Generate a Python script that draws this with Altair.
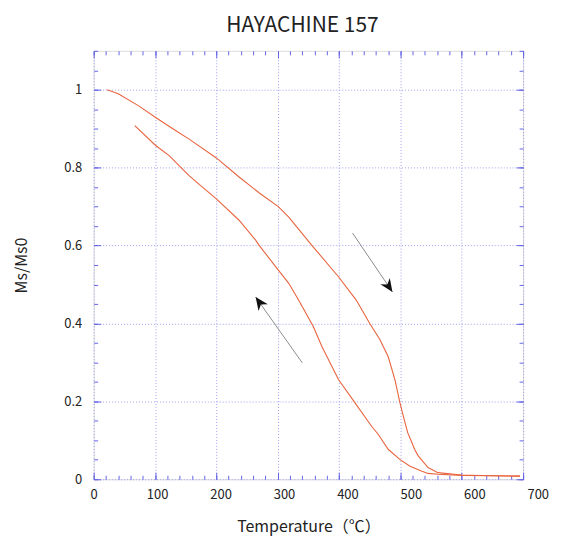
import math
import altair as alt
import pandas as pd

# ---- data ----
heat_T = [22, 40, 74, 101, 134, 155, 200, 237, 270, 301, 318, 356, 399, 428, 450, 466, 480, 491, 499, 505, 512, 518, 523, 529, 545, 561, 599, 650, 695]
heat_M = [1.0, 0.99, 0.958, 0.929, 0.895, 0.874, 0.825, 0.776, 0.735, 0.70, 0.673, 0.60, 0.52, 0.46, 0.40, 0.36, 0.315, 0.256, 0.198, 0.16, 0.119, 0.097, 0.077, 0.06, 0.03, 0.017, 0.011, 0.009, 0.008]

cool_T = [695, 650, 600, 561, 545, 534, 515, 499, 480, 464, 453, 426, 399, 372, 358, 334, 318, 301, 270, 264, 237, 200, 172, 155, 123, 101, 67]
cool_M = [0.008, 0.009, 0.010, 0.013, 0.015, 0.021, 0.034, 0.051, 0.077, 0.115, 0.136, 0.196, 0.256, 0.341, 0.392, 0.46, 0.503, 0.537, 0.60, 0.614, 0.665, 0.72, 0.757, 0.78, 0.831, 0.857, 0.908]

arrow_id = ["heat", "cool"]
arrow_x1 = [422, 340]
arrow_y1 = [0.632, 0.299]
arrow_x2 = [487, 264]
arrow_y2 = [0.481, 0.468]

x_major = list(range(0, 701, 100))
x_minor = list(range(0, 701, 20))
y_major = [0, 0.2, 0.4, 0.6, 0.8, 1.0]
y_minor = [round(i * 0.05, 2) for i in range(0, 23)]

TITLE = "HAYACHINE 157"
XTITLE = "Temperature（℃）"
YTITLE = "Ms/Ms0"

# ---- layout / style ----
W, H = 431, 430
XMAX, YMAX = 700, 1.1
FONT = "Noto Sans CJK JP"
BLUE = "#6464e6"
GRID = "#a0a0f0"
CURVE = "#e8653f"

heat = pd.DataFrame({"T": heat_T, "M": heat_M})
cool = pd.DataFrame({"T": cool_T, "M": cool_M})

angles = []
for x1, y1, x2, y2 in zip(arrow_x1, arrow_y1, arrow_x2, arrow_y2):
    dx = (x2 - x1) * W / XMAX
    dy = -(y2 - y1) * H / YMAX
    angles.append(math.degrees(math.atan2(dx, -dy)) % 360)
arrows = pd.DataFrame({"id": arrow_id, "x1": arrow_x1, "y1": arrow_y1,
                       "x2": arrow_x2, "y2": arrow_y2, "angle": angles})

xs = alt.Scale(domain=[0, XMAX], nice=False, zero=False)
ys = alt.Scale(domain=[0, YMAX], nice=False, zero=False)


def tick_axis(orient, offset, size, values):
    return alt.Axis(orient=orient, offset=offset, values=values, tickSize=size,
                    tickColor=BLUE, tickWidth=1, labels=False, domain=False,
                    grid=False, title=None)


main_x = alt.Axis(orient="bottom", values=x_major, grid=True, gridColor=GRID,
                  gridDash=[1, 2], gridWidth=1, ticks=False, domain=False,
                  labelFont=FONT, labelFontSize=13, labelColor="#222",
                  labelPadding=9, labelFlush=False,
                  labelOffset=alt.ExprRef(expr="datum.value * 0.021"),
                  title=XTITLE, titleFont=FONT, titleFontSize=16,
                  titleFontWeight="normal", titleColor="#222",
                  titleY=52, titleBaseline="alphabetic")
main_y = alt.Axis(orient="left", values=y_major, format=".1~f", grid=True,
                  gridColor=GRID, gridDash=[1, 2], gridWidth=1, ticks=False,
                  domain=False, labelFont=FONT, labelFontSize=13,
                  labelColor="#222", labelPadding=12, labelFlush=False,
                  title=YTITLE, titleFont=FONT, titleFontSize=16,
                  titleFontWeight="normal", titleColor="#222", titleX=-67,
                  titleBaseline="alphabetic")

heat_layer = alt.Chart(heat).mark_line(color=CURVE, strokeWidth=1.1).encode(
    x=alt.X("T:Q", scale=xs, axis=main_x),
    y=alt.Y("M:Q", scale=ys, axis=main_y),
    order="T:Q",
)

cool_layer = alt.Chart(cool).mark_line(color=CURVE, strokeWidth=1.1).encode(
    x=alt.X("T:Q", scale=xs, axis=tick_axis("bottom", -H, 7, x_major)),
    y=alt.Y("M:Q", scale=ys, axis=tick_axis("right", -W, 7, y_major)),
    order="T:Q",
)

shaft_layer = alt.Chart(arrows).mark_rule(color="#8c8c8c", strokeWidth=1).encode(
    x=alt.X("x1:Q", scale=xs, axis=tick_axis("bottom", -H, 4, x_minor)),
    y=alt.Y("y1:Q", scale=ys, axis=tick_axis("right", -W, 4, y_minor)),
    x2="x2:Q",
    y2="y2:Q",
)

HEAD = "M0,0L1,2.3L0,1.6L-1,2.3Z"

head1 = alt.Chart(arrows).transform_filter(alt.datum.id == "heat").mark_point(
    shape=HEAD, filled=True, color="#111", size=130, opacity=1
).encode(
    x=alt.X("x2:Q", scale=xs, axis=tick_axis("top", -H, 7, x_major)),
    y=alt.Y("y2:Q", scale=ys, axis=tick_axis("left", -W, 7, y_major)),
    angle=alt.Angle("angle:Q", scale=None),
)

head2 = alt.Chart(arrows).transform_filter(alt.datum.id == "cool").mark_point(
    shape=HEAD, filled=True, color="#111", size=130, opacity=1
).encode(
    x=alt.X("x2:Q", scale=xs, axis=tick_axis("top", -H, 4, x_minor)),
    y=alt.Y("y2:Q", scale=ys, axis=tick_axis("left", -W, 4, y_minor)),
    angle=alt.Angle("angle:Q", scale=None),
)

chart = alt.layer(heat_layer, cool_layer, shaft_layer, head1, head2).resolve_axis(
    x="independent", y="independent"
).properties(
    width=W,
    height=H,
    autosize=alt.AutoSizeParams(type="none"),
    padding={"left": 86, "top": 42, "right": 30, "bottom": 64},
    title=alt.TitleParams(TITLE, font=FONT, fontSize=21, fontWeight="normal",
                          color="#222", anchor="middle", offset=21,
                          baseline="alphabetic", frame="group", dy=24, dx=-6),
).configure_view(stroke=BLUE, strokeWidth=1).configure(background="white")

chart.save("out.html", embed_options={"renderer": "svg", "actions": False})
